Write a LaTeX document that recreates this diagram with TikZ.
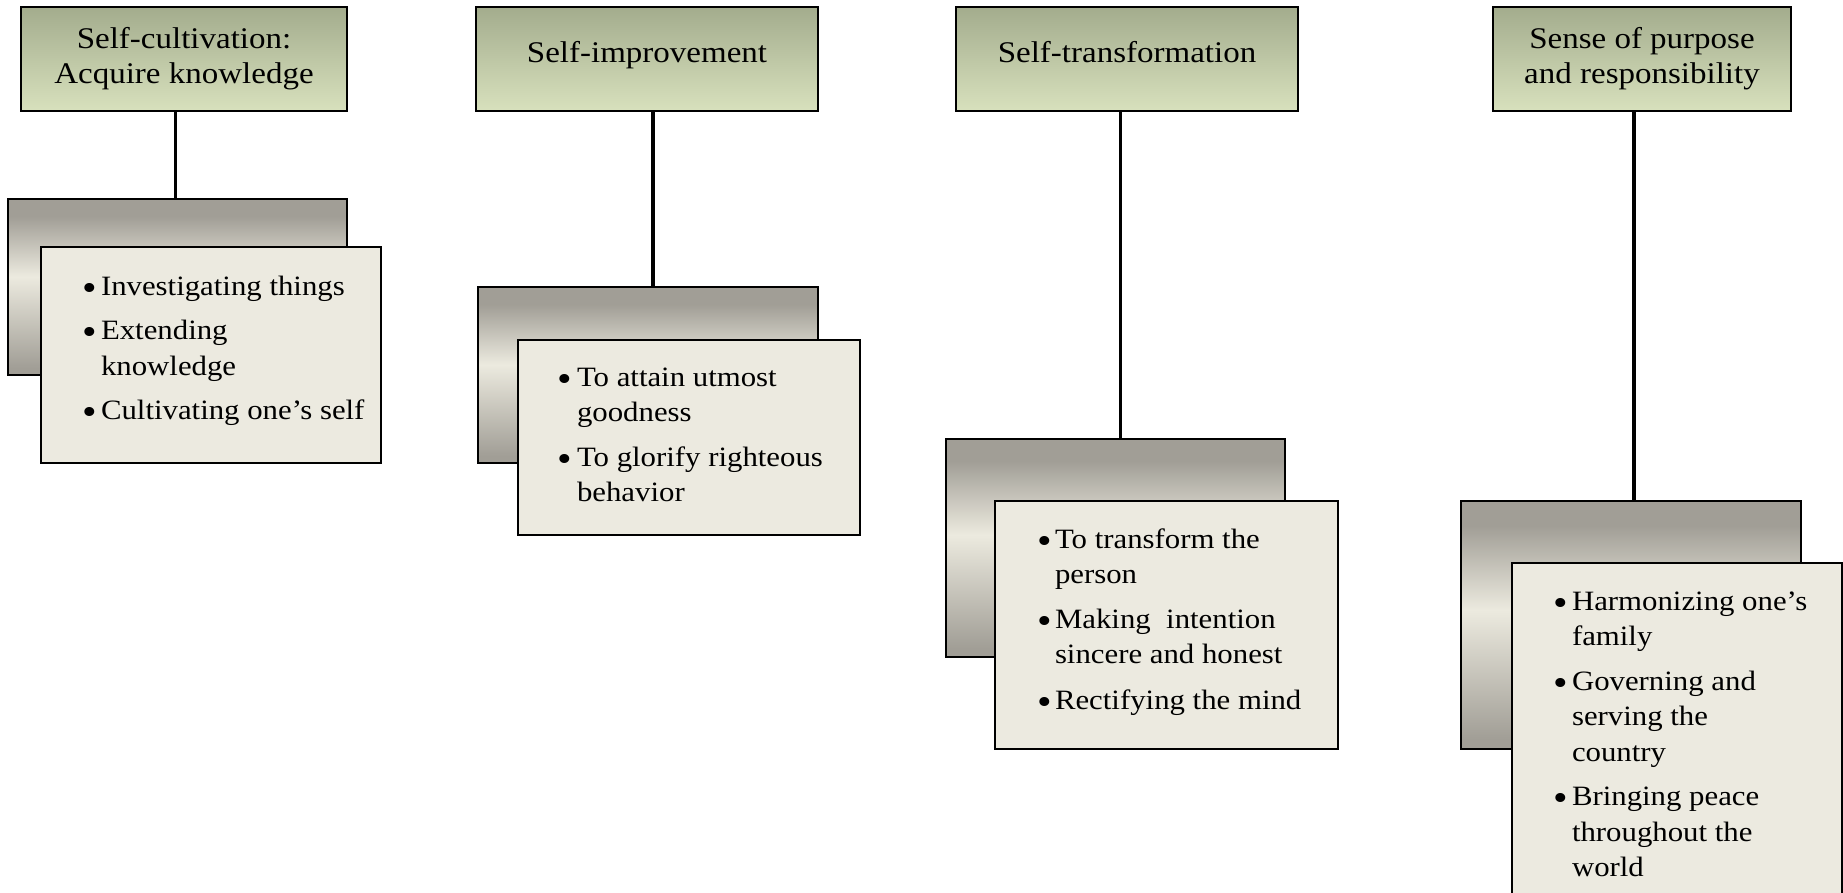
\documentclass[tikz,border=0pt]{standalone}
\usepackage{fontspec}
\setmainfont{Liberation Serif}[FakeStretch=1.1]
\usetikzlibrary{positioning}

\definecolor{hdrTop}{RGB}{163,172,141}
\definecolor{hdrBot}{RGB}{216,225,189}
\definecolor{backDark}{RGB}{161,158,150}
\definecolor{backLight}{RGB}{236,234,223}
\definecolor{frontFill}{RGB}{236,234,224}

% grey card behind each list: dark top and bottom, light band above the middle
\pgfdeclareverticalshading{backshade}{100bp}{%
  color(0bp)=(backDark); color(27bp)=(backDark);
  color(53bp)=(backLight); color(70bp)=(backDark);
  color(100bp)=(backDark)}

% a list row: large round bullet in the first column, text in the second
\newcommand{\itm}[1]{\raisebox{-5pt}{\scalebox{1.35}{\textbullet}} & #1}

\tikzset{
  hdrbox/.style={draw=black, line width=2.4pt, inner sep=0pt, outer sep=0pt,
    anchor=north west, top color=hdrTop, bottom color=hdrBot,
    align=center, font=\fontsize{30}{35}\selectfont},
  oneline/.style={text height=20pt, text depth=13pt},
  backbox/.style={draw=black, line width=2.4pt, inner sep=0pt, outer sep=0pt,
    anchor=north west, shading=backshade},
  frontbox/.style={draw=black, line width=2.4pt, inner sep=0pt, outer sep=0pt,
    anchor=north west, fill=frontFill},
  listtext/.style={anchor=base west, inner sep=0pt, outer sep=0pt,
    font=\fontsize{28}{35.5}\selectfont},
  conn/.style={line width=3.6pt}
}

\begin{document}
\begin{tikzpicture}[x=1pt, y=-1pt]
\useasboundingbox (0,0) rectangle (1843,893);
\clip (0,0) rectangle (1843,893);

% ---- headers ----
\node[hdrbox, minimum width=326pt, minimum height=104pt] (h1) at (21,7) {Self-cultivation:\\Acquire knowledge};
\node[hdrbox, oneline, minimum width=342pt, minimum height=104pt] (h2) at (476,7) {Self-improvement};
\node[hdrbox, oneline, minimum width=342pt, minimum height=104pt] (h3) at (956,7) {Self-transformation};
\node[hdrbox, minimum width=298pt, minimum height=104pt] (h4) at (1493,7) {Sense of purpose\\and responsibility};

% ---- grey back cards ----
\node[backbox, minimum width=339pt, minimum height=176pt] (b1) at (8,199) {};
\node[backbox, minimum width=340pt, minimum height=176pt] (b2) at (478,287) {};
\node[backbox, minimum width=339pt, minimum height=218pt] (b3) at (946,439) {};
\node[backbox, minimum width=340pt, minimum height=248pt] (b4) at (1461,501) {};

% ---- connectors ----
\draw[conn] ([xshift=-2pt]b1.north) -- ([xshift=-2pt]b1.north |- h1.south);
\draw[conn] ([xshift=5pt]b2.north) -- ([xshift=5pt]b2.north |- h2.south);
\draw[conn] ([xshift=5pt]b3.north) -- ([xshift=5pt]b3.north |- h3.south);
\draw[conn] ([xshift=3pt]b4.north) -- ([xshift=3pt]b4.north |- h4.south);

% ---- front cards ----
\node[frontbox, minimum width=340pt, minimum height=216pt] (f1) at (41,247) {};
\node[frontbox, minimum width=342pt, minimum height=195pt] (f2) at (518,340) {};
\node[frontbox, minimum width=343pt, minimum height=248pt] (f3) at (995,501) {};
\node[frontbox, minimum width=330pt, minimum height=360pt] (f4) at (1512,563) {};

% ---- bullet lists ----
\node[listtext] (t1) at ([shift={(41,48)}]f1.north west) {%
  \begin{tabular}[t]{@{}p{19pt}@{}l@{}}
  \itm{Investigating things}\\[9pt]
  \itm{Extending}\\
   & knowledge\\[9pt]
  \itm{Cultivating one’s self}
  \end{tabular}};

\node[listtext] (t2) at ([shift={(39,46)}]f2.north west) {%
  \begin{tabular}[t]{@{}p{20pt}@{}l@{}}
  \itm{To attain utmost}\\
   & goodness\\[9pt]
  \itm{To glorify righteous}\\
   & behavior
  \end{tabular}};

\node[listtext] (t3) at ([shift={(42,47)}]f3.north west) {%
  \begin{tabular}[t]{@{}p{18pt}@{}l@{}}
  \itm{To transform the}\\
   & person\\[9pt]
  \itm{Making\ \ intention}\\
   & sincere and honest\\[10pt]
  \itm{Rectifying the mind}
  \end{tabular}};

\node[listtext] (t4) at ([shift={(41,47)}]f4.north west) {%
  \begin{tabular}[t]{@{}p{19pt}@{}l@{}}
  \itm{Harmonizing one’s}\\
   & family\\[9pt]
  \itm{Governing and}\\
   & serving the\\
   & country\\[9pt]
  \itm{Bringing peace}\\
   & throughout the\\
   & world
  \end{tabular}};
\end{tikzpicture}
\end{document}
